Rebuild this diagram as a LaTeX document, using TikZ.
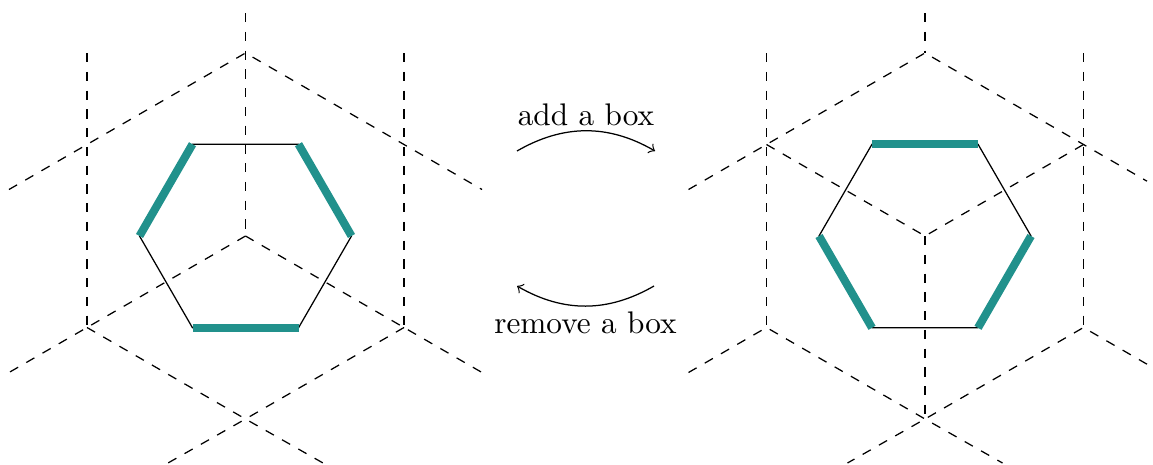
\documentclass[tikz,border=0pt]{standalone}
\definecolor{dimer}{HTML}{21918C}
\begin{document}
\begin{tikzpicture}[x=0.32pt,y=-0.32pt,
  lat/.style={dashed, line width=0.4pt},
  hexedge/.style={line width=0.4pt},
  dimeredge/.style={line width=2.6pt, draw=dimer},
  movearrow/.style={->, line width=0.4pt}]
\useasboundingbox (0,0) rectangle (1153,464);
% ---------- left lattice ----------
\coordinate (Lttop) at (245.5,13);
\coordinate (LT) at (245.5,53);
\coordinate (LC) at (245.5,236);
\coordinate (LTL) at (87,144.5);
\coordinate (LTLup) at (87,53);
\coordinate (LTLout) at (9,189.5);
\coordinate (LTR) at (404,144.5);
\coordinate (LTRup) at (404,53);
\coordinate (LTRout) at (482,189.5);
\coordinate (LBL) at (87,327.5);
\coordinate (LBLout) at (9,372.5);
\coordinate (LBR) at (404,327.5);
\coordinate (LBRout) at (482,372.5);
\coordinate (LB) at (245.5,419);
\coordinate (LBl) at (168,463);
\coordinate (LBr) at (323,463);
\draw[lat] (Lttop) -- (LT) -- (LC);
\draw[lat] (LTLout) -- (LTL) -- (LT) -- (LTR) -- (LTRout);
\draw[lat] (LTLup) -- (LTL) -- (LBL);
\draw[lat] (LTRup) -- (LTR) -- (LBR);
\draw[lat] (LC) -- (LBL) -- (LBLout);
\draw[lat] (LC) -- (LBR) -- (LBRout);
\draw[lat] (LBL) -- (LB) -- (LBr);
\draw[lat] (LBR) -- (LB) -- (LBl);
% left hexagon
\coordinate (Le) at (351.5,236);
\coordinate (Lne) at (298.5,144.2);
\coordinate (Lnw) at (192.5,144.2);
\coordinate (Lw) at (139.5,236);
\coordinate (Lsw) at (192.5,327.8);
\coordinate (Lse) at (298.5,327.8);
\draw[hexedge] (Le) -- (Lne) -- (Lnw) -- (Lw) -- (Lsw) -- (Lse) -- cycle;
\draw[dimeredge] (Lnw) -- (Lw);
\draw[dimeredge] (Lne) -- (Le);
\draw[dimeredge] (Lsw) -- (Lse);
% ---------- right lattice ----------
\coordinate (Rttop) at (925,13);
\coordinate (RT) at (925,53);
\coordinate (RC) at (925,236);
\coordinate (RTL) at (766.5,144.5);
\coordinate (RTLup) at (766.5,53);
\coordinate (RTLout) at (688.5,189.5);
\coordinate (RTR) at (1083.5,144.5);
\coordinate (RTRup) at (1083.5,53);
\coordinate (RTRout) at (1147,181.2);
\coordinate (RBL) at (766.5,327.5);
\coordinate (RBLout) at (688.5,372.5);
\coordinate (RBR) at (1083.5,327.5);
\coordinate (RBRout) at (1147,364.2);
\coordinate (RB) at (925,419);
\coordinate (RBl) at (847.5,463);
\coordinate (RBr) at (1002.5,463);
\draw[lat] (Rttop) -- (RT);
\draw[lat] (RTLout) -- (RTL) -- (RT) -- (RTR) -- (RTRout);
\draw[lat] (RTLup) -- (RTL) -- (RBL);
\draw[lat] (RTRup) -- (RTR) -- (RBR);
\draw[lat] (RTL) -- (RC) -- (RTR);
\draw[lat] (RC) -- (RB);
\draw[lat] (RBLout) -- (RBL) -- (RB) -- (RBr);
\draw[lat] (RBRout) -- (RBR) -- (RB) -- (RBl);
% right hexagon
\coordinate (Re) at (1031,236);
\coordinate (Rne) at (978,144.2);
\coordinate (Rnw) at (872,144.2);
\coordinate (Rw) at (819,236);
\coordinate (Rsw) at (872,327.8);
\coordinate (Rse) at (978,327.8);
\draw[hexedge] (Re) -- (Rne) -- (Rnw) -- (Rw) -- (Rsw) -- (Rse) -- cycle;
\draw[dimeredge] (Rnw) -- (Rne);
\draw[dimeredge] (Rw) -- (Rsw);
\draw[dimeredge] (Rse) -- (Re);
% ---------- arrows ----------
\coordinate (a1) at (517,151);
\coordinate (a2) at (655,151);
\coordinate (b1) at (654,286);
\coordinate (b2) at (517,286);
\draw[movearrow] (a1) to[bend left=30] node[above, inner sep=1.3pt] {add a box} (a2);
\draw[movearrow] (b1) to[bend left=30] node[below, inner sep=1.5pt] {remove a box} (b2);
\end{tikzpicture}
\end{document}
